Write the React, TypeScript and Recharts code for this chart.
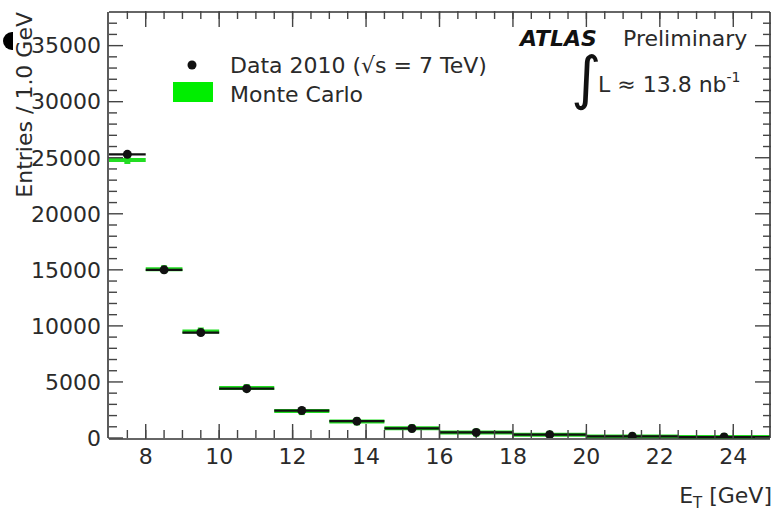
import React from "react";
import { ComposedChart, Scatter, XAxis, YAxis, ErrorBar } from "recharts";

const xMajorTicks = [8, 10, 12, 14, 16, 18, 20, 22, 24];
const xMinorTicks = [7.5, 8, 8.5, 9, 9.5, 10, 10.5, 11, 11.5, 12, 12.5, 13, 13.5, 14, 14.5, 15, 15.5, 16, 16.5, 17, 17.5, 18, 18.5, 19, 19.5, 20, 20.5, 21, 21.5, 22, 22.5, 23, 23.5, 24, 24.5];
const yMajorTicks = [0, 5000, 10000, 15000, 20000, 25000, 30000, 35000];
const yMinorTicks = [1000, 2000, 3000, 4000, 6000, 7000, 8000, 9000, 11000, 12000, 13000, 14000, 16000, 17000, 18000, 19000, 21000, 22000, 23000, 24000, 26000, 27000, 28000, 29000, 31000, 32000, 33000, 34000, 36000, 37000];

const binCenters = [7.5, 8.5, 9.5, 10.75, 12.25, 13.75, 15.25, 17, 19, 21.25, 23.75];
const binHalfWidths = [0.5, 0.5, 0.5, 0.75, 0.75, 0.75, 0.75, 1, 1, 1.25, 1.25];
const dataEntries = [25300, 15000, 9400, 4400, 2450, 1500, 850, 500, 300, 150, 90];
const mcEntries = [24800, 15050, 9500, 4450, 2400, 1480, 870, 480, 290, 140, 80];

const dataRows = binCenters.map((x, i) => ({ x, y: dataEntries[i], xerr: binHalfWidths[i] }));
const mcRows = binCenters.map((x, i) => ({ x, y: mcEntries[i], xerr: binHalfWidths[i] }));

const FONT = "'DejaVu Sans', 'Liberation Sans', Arial, sans-serif";
const TXT = "#2a2a2a";
const AX = "#333";
const FS = 22;

const tickStyle = { fill: TXT, fontSize: FS, fontFamily: FONT };
const tickLineStyle = { stroke: "#444", strokeWidth: 1.4 };
const axisLineStyle = { stroke: AX, strokeWidth: 1.6 };

const EmptyTick = () => <g />;
const Dot = (p: any) => <circle cx={p.cx} cy={p.cy} r={4.5} fill="#111" />;
const McMark = (p: any) => <rect x={p.cx - 3} y={p.cy - 4} width={6} height={8} fill="#22dd22" />;

export default function App() {
  return (
    <div style={{ position: "absolute", left: 0, top: 0, width: 775, height: 514, background: "#fff", fontFamily: FONT }}>
      <ComposedChart width={775} height={514} margin={{ top: 10, right: 3, bottom: 35, left: 8 }}>
        <XAxis xAxisId="b0" type="number" dataKey="x" domain={[7, 25]} allowDataOverflow ticks={xMinorTicks} interval={0}
          tick={EmptyTick} tickSize={-8} tickLine={tickLineStyle} axisLine={false} height={1} />
        <XAxis xAxisId="b1" type="number" dataKey="x" domain={[7, 25]} allowDataOverflow ticks={xMajorTicks} interval={0}
          tick={tickStyle} tickSize={-15} tickMargin={24} tickLine={tickLineStyle} axisLine={axisLineStyle} height={40} />
        <XAxis xAxisId="t0" orientation="top" type="number" dataKey="x" domain={[7, 25]} allowDataOverflow ticks={xMajorTicks} interval={0}
          tick={EmptyTick} tickSize={-15} tickLine={tickLineStyle} axisLine={axisLineStyle} height={1} />
        <XAxis xAxisId="t1" orientation="top" type="number" dataKey="x" domain={[7, 25]} allowDataOverflow ticks={xMinorTicks} interval={0}
          tick={EmptyTick} tickSize={-8} tickLine={tickLineStyle} axisLine={false} height={1} />
        <YAxis yAxisId="l0" type="number" domain={[0, 38000]} allowDataOverflow ticks={yMinorTicks} interval={0}
          tick={EmptyTick} tickSize={-8} tickLine={tickLineStyle} axisLine={false} width={1} />
        <YAxis yAxisId="l1" type="number" domain={[0, 38000]} allowDataOverflow ticks={yMajorTicks} interval={0}
          tick={tickStyle} tickSize={-15} tickMargin={22} tickLine={tickLineStyle} axisLine={axisLineStyle} width={100} />
        <YAxis yAxisId="r0" orientation="right" type="number" domain={[0, 38000]} allowDataOverflow ticks={yMajorTicks} interval={0}
          tick={EmptyTick} tickSize={-15} tickLine={tickLineStyle} axisLine={axisLineStyle} width={1} />
        <YAxis yAxisId="r1" orientation="right" type="number" domain={[0, 38000]} allowDataOverflow ticks={yMinorTicks} interval={0}
          tick={EmptyTick} tickSize={-8} tickLine={tickLineStyle} axisLine={false} width={1} />
        <Scatter xAxisId="b1" yAxisId="l1" data={mcRows} dataKey="y" shape={McMark} isAnimationActive={false}>
          <ErrorBar dataKey="xerr" direction="x" width={0} stroke="#22dd22" strokeWidth={4} />
        </Scatter>
        <Scatter xAxisId="b1" yAxisId="l1" data={dataRows} dataKey="y" shape={Dot} isAnimationActive={false}>
          <ErrorBar dataKey="xerr" direction="x" width={0} stroke="#111" strokeWidth={2.2} />
        </Scatter>
      </ComposedChart>
      <svg width={775} height={514} style={{ position: "absolute", left: 0, top: 0, pointerEvents: "none" }} fontFamily={FONT}>
        <text transform="translate(32, 12) rotate(-90)" textAnchor="end" fontSize={FS} fill={TXT}>
          Entries / 1.0 GeV
        </text>
        <text x={772} y={503} textAnchor="end" fontSize={FS} fill={TXT}>
          E<tspan dy={5} fontSize={15}>T</tspan>
          <tspan dy={-5}> [GeV]</tspan>
        </text>
        <circle cx={192} cy={65} r={4.5} fill="#111" />
        <text x={230} y={73} fontSize={FS} fill={TXT}>Data 2010 (√s = 7 TeV)</text>
        <rect x={173} y={82} width={40} height={20} fill="#00ee00" />
        <text x={230} y={102} fontSize={FS} fill={TXT}>Monte Carlo</text>
        <text x={520} y={46} fontSize={FS} fontWeight="bold" fontStyle="italic" fill="#111">ATLAS</text>
        <text x={623} y={46} fontSize={FS} fill={TXT}>Preliminary</text>
        <text x={571} y={98} fontSize={58} fill="#111" fontFamily="'DejaVu Sans', sans-serif">∫</text>
        <text x={598} y={92} fontSize={FS} fill={TXT}>
          L ≈ 13.8 nb<tspan dy={-10} fontSize={14}>-1</tspan>
        </text>
      </svg>
      <div style={{ position: "absolute", left: 3, top: 32, width: 10, height: 18, background: "#000", borderRadius: "9px 0 0 9px" }} />
    </div>
  );
}
